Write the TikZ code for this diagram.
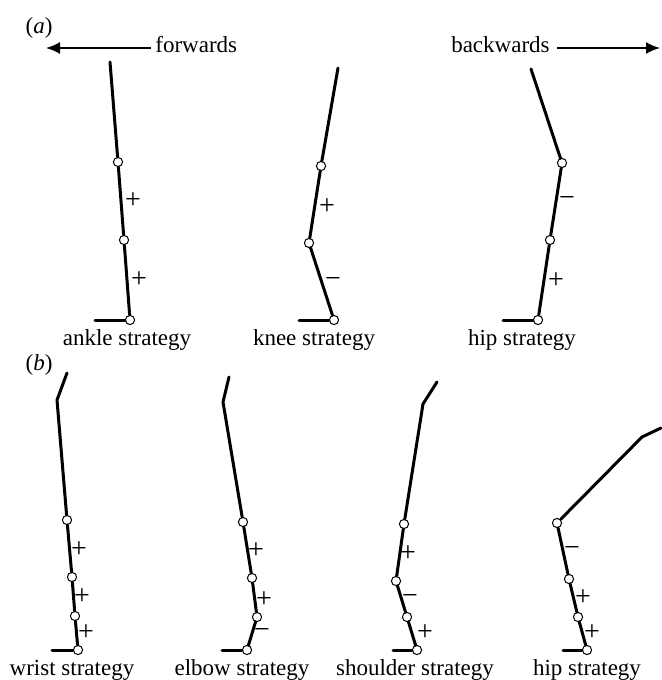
\documentclass[tikz,border=0pt]{standalone}
\usepackage{fontspec}
\setmainfont{Liberation Serif}
\usetikzlibrary{arrows.meta}

\begin{document}
\begin{tikzpicture}[x=0.5pt,y=-0.5pt,
  seg/.style={line width=1.5pt,line cap=round,line join=round},
  joint/.style={circle,draw,fill=white,line width=0.5pt,inner sep=0pt,minimum size=4.6pt},
  sgn/.style={font=\fontsize{14}{14}\selectfont,inner sep=0pt},
  lbl/.style={font=\fontsize{11.5}{12}\selectfont,anchor=base,inner sep=0pt}]
  \useasboundingbox (0,0) rectangle (661,680);
  % panel (a)
  \node[lbl] (pa) at (39,33) {(\textit{a})};
  \node[lbl,anchor=base west] (fwd) at (155,53) {forwards};
  \coordinate (fwdtip) at (46,48);
  \draw[line width=1pt,-{Latex[length=7pt,width=6pt]}] (fwd.west|-fwdtip) ++(-4,0) -- (fwdtip);
  \node[lbl,anchor=base east] (bwd) at (550,53) {backwards};
  \coordinate (bwdtip) at (660,48);
  \draw[line width=1pt,-{Latex[length=7pt,width=6pt]}] (bwd.east|-bwdtip) ++(7,0) -- (bwdtip);
  % ankle strategy
  \coordinate (an0) at (110,62);
  \node[joint] (an1) at (118,162) {};
  \node[joint] (an2) at (124,240) {};
  \node[joint] (an3) at (130,320) {};
  \coordinate (anf) at (95,320);
  \draw[seg] (an0) -- (an1) -- (an2) -- (an3);
  \draw[seg] (anf) -- (an3);
  \node[sgn] at (133,201) {+};
  \node[sgn] at (139,280) {+};
  \node[lbl] (anl) at (127,345) {ankle strategy};
  % knee strategy
  \coordinate (kn0) at (338,68);
  \node[joint] (kn1) at (321,166) {};
  \node[joint] (kn2) at (309,243) {};
  \node[joint] (kn3) at (334,320) {};
  \coordinate (knf) at (299,320);
  \draw[seg] (kn0) -- (kn1) -- (kn2) -- (kn3);
  \draw[seg] (knf) -- (kn3);
  \node[sgn] at (327,207) {+};
  \node[sgn] at (333,282) {−};
  \node[lbl] (knl) at (314,345) {knee strategy};
  % hip strategy
  \coordinate (hp0) at (531,69);
  \node[joint] (hp1) at (562,163) {};
  \node[joint] (hp2) at (550,240) {};
  \node[joint] (hp3) at (538,320) {};
  \coordinate (hpf) at (503,320);
  \draw[seg] (hp0) -- (hp1) -- (hp2) -- (hp3);
  \draw[seg] (hpf) -- (hp3);
  \node[sgn] at (567,202) {−};
  \node[sgn] at (556,281) {+};
  \node[lbl] (hpl) at (522,345) {hip strategy};
  % panel (b)
  \node[lbl] (pb) at (39,370) {(\textit{b})};
  % wrist strategy
  \coordinate (wr0) at (67,373);
  \coordinate (wr1) at (57,400);
  \node[joint] (wr2) at (67,520) {};
  \node[joint] (wr3) at (72,577) {};
  \node[joint] (wr4) at (75,616) {};
  \node[joint] (wr5) at (78,650) {};
  \coordinate (wrf) at (52,650);
  \draw[seg] (wr0) -- (wr1) -- (wr2) -- (wr3) -- (wr4) -- (wr5);
  \draw[seg] (wrf) -- (wr5);
  \node[sgn] at (79,550) {+};
  \node[sgn] at (82,597) {+};
  \node[sgn] at (86,633) {+};
  \node[lbl] (wrl) at (72,675) {wrist strategy};
  % elbow strategy
  \coordinate (el0) at (229,377);
  \coordinate (el1) at (223,402);
  \node[joint] (el2) at (243,522) {};
  \node[joint] (el3) at (252,578) {};
  \node[joint] (el4) at (257,617) {};
  \node[joint] (el5) at (247,650) {};
  \coordinate (elf) at (222,650);
  \draw[seg] (el0) -- (el1) -- (el2) -- (el3) -- (el4) -- (el5);
  \draw[seg] (elf) -- (el5);
  \node[sgn] at (256,551) {+};
  \node[sgn] at (264,600) {+};
  \node[sgn] at (262,633) {−};
  \node[lbl] (ell) at (242,675) {elbow strategy};
  % shoulder strategy
  \coordinate (sh0) at (437,382);
  \coordinate (sh1) at (423,404);
  \node[joint] (sh2) at (404,524) {};
  \node[joint] (sh3) at (396,581) {};
  \node[joint] (sh4) at (407,617) {};
  \node[joint] (sh5) at (417,650) {};
  \coordinate (shf) at (393,650);
  \draw[seg] (sh0) -- (sh1) -- (sh2) -- (sh3) -- (sh4) -- (sh5);
  \draw[seg] (shf) -- (sh5);
  \node[sgn] at (408,554) {+};
  \node[sgn] at (410,599) {−};
  \node[sgn] at (425,633) {+};
  \node[lbl] (shl) at (415,675) {shoulder strategy};
  % hip strategy (b)
  \coordinate (hb0) at (661,428);
  \coordinate (hb1) at (642,437);
  \node[joint] (hb2) at (557,523) {};
  \node[joint] (hb3) at (569,579) {};
  \node[joint] (hb4) at (578,617) {};
  \node[joint] (hb5) at (587,650) {};
  \coordinate (hbf) at (563,650);
  \draw[seg] (hb0) -- (hb1) -- (hb2) -- (hb3) -- (hb4) -- (hb5);
  \draw[seg] (hbf) -- (hb5);
  \node[sgn] at (572,551) {−};
  \node[sgn] at (583,598) {+};
  \node[sgn] at (592,633) {+};
  \node[lbl] (hbl) at (587,675) {hip strategy};
\end{tikzpicture}
\end{document}
